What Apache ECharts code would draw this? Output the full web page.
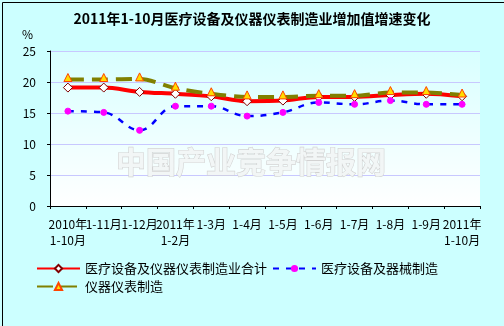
<!DOCTYPE html>
<html><head><meta charset="utf-8">
<script src="https://cdn.jsdelivr.net/npm/echarts@6/dist/echarts.min.js"></script>
<style>html,body{margin:0;padding:0;background:#fff}#c{width:504px;height:326px;}</style>
</head><body><div id="c"></div>
<script>
const categories = ['2010年\n1-10月','1-11月','1-12月','2011年\n1-2月','1-3月','1-4月','1-5月','1-6月','1-7月','1-8月','1-9月','2011年\n1-10月'];
const totalValues = [19.1, 19.1, 18.4, 18.1, 17.7, 16.9, 17.0, 17.6, 17.6, 17.9, 18.1, 17.7];
const deviceValues = [15.3, 15.1, 12.2, 16.1, 16.1, 14.5, 15.1, 16.7, 16.4, 17.0, 16.4, 16.4];
const instrumentValues = [20.4, 20.4, 20.5, 19.0, 18.1, 17.6, 17.6, 17.8, 17.8, 18.3, 18.3, 17.9];
const seriesNames = ['医疗设备及仪器仪表制造业合计', '医疗设备及器械制造', '仪器仪表制造'];
const yTicks = [0, 5, 10, 15, 20, 25];
const titleText = '2011年1-10月医疗设备及仪器仪表制造业增加值增速变化';

const chart = echarts.init(document.getElementById('c'), null, {renderer: 'canvas'});
const font = '"Noto Sans CJK SC", sans-serif';
chart.setOption({
  animation: false,
  backgroundColor: '#CCFFFF',
  title: {
    text: titleText, left: 'center', top: 7,
    textStyle: {fontFamily: font, fontSize: 14, fontWeight: 'bold', color: '#000'}
  },
  graphic: [
    {type: 'rect', left: 0, top: 0, shape: {width: 503, height: 325}, style: {fill: 'none', stroke: '#000', lineWidth: 1}, silent: true, z: 100},
    {type: 'text', left: 22, top: 28, style: {text: '%', font: '12px ' + font, fill: '#000'}},
    {type: 'text', x: 251, y: 162, style: {text: '中国产业竞争情报网', font: 'bold 30px ' + font, fill: '#F2F6F6', stroke: '#D2D2D2', lineWidth: 1.2, align: 'center', verticalAlign: 'middle'}, z: 1}
  ],
  grid: {
    left: 50, right: 24, top: 51, bottom: 120, show: true, borderWidth: 0,
    backgroundColor: new echarts.graphic.LinearGradient(0, 0, 0, 1, [{offset: 0, color: '#D8FFFF'}, {offset: 1, color: '#FFFFFF'}])
  },
  legend: {
    left: 31, top: 257, width: 440, itemWidth: 43, itemHeight: 9, itemGap: 5,
    textStyle: {fontFamily: font, fontSize: 13, color: '#000'},
    data: seriesNames
  },
  xAxis: {
    type: 'category', data: categories, boundaryGap: true,
    axisLine: {lineStyle: {color: '#000', width: 1}},
    axisTick: {show: true, length: 3, lineStyle: {color: '#000'}},
    axisLabel: {interval: 0, fontFamily: font, fontSize: 12, color: '#000', lineHeight: 16, margin: 10}
  },
  yAxis: {
    type: 'value', min: yTicks[0], max: yTicks[yTicks.length - 1], interval: 5,
    axisLine: {show: true, lineStyle: {color: '#000', width: 1}},
    axisTick: {show: true, length: 3, lineStyle: {color: '#000'}},
    axisLabel: {fontFamily: font, fontSize: 12, color: '#000', margin: 14},
    splitLine: {lineStyle: {color: '#C8C8FF', width: 1}}
  },
  series: [
    {
      name: seriesNames[0], type: 'line', data: totalValues, smooth: 0.3, z: 3,
      symbol: 'diamond', symbolSize: 9,
      itemStyle: {color: '#FFFFFF', borderColor: '#800000', borderWidth: 1},
      lineStyle: {color: '#FF0000', width: 4}
    },
    {
      name: seriesNames[1], type: 'line', data: deviceValues, smooth: 0.4, z: 4,
      symbol: 'circle', symbolSize: 6,
      itemStyle: {color: '#FF00FF', borderColor: '#FF00FF'},
      lineStyle: {color: '#0000FF', width: 2.5, type: [6, 7]}
    },
    {
      name: seriesNames[2], type: 'line', data: instrumentValues, smooth: 0.3, z: 5,
      symbol: 'triangle', symbolSize: 8, symbolOffset: [0, -2],
      itemStyle: {color: '#FFDD00', borderColor: '#FF4400', borderWidth: 1},
      lineStyle: {color: '#808000', width: 4, type: [16, 8]}
    }
  ]
});
</script></body></html>
